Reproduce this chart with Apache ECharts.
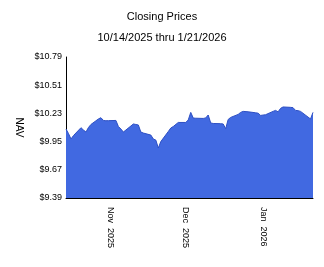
<!DOCTYPE html>
<html>
<head>
<meta charset="utf-8">
<script src="https://cdn.jsdelivr.net/npm/echarts@6/dist/echarts.min.js"></script>
<style>html,body{margin:0;padding:0;background:#fff}#c{width:324px;height:267px}</style>
</head>
<body>
<div id="c"></div>
<script>
const titleText = 'Closing Prices';
const subtitleText = '10/14/2025 thru 1/21/2026';
const yAxisName = 'NAV';
const dates = [
 '2025-10-14','2025-10-15','2025-10-16','2025-10-17','2025-10-20','2025-10-21','2025-10-22','2025-10-23','2025-10-24','2025-10-27','2025-10-28','2025-10-29','2025-10-30','2025-10-31',
 '2025-11-03','2025-11-04','2025-11-05','2025-11-06','2025-11-07','2025-11-10','2025-11-11','2025-11-12','2025-11-13','2025-11-14','2025-11-17','2025-11-18','2025-11-19','2025-11-20','2025-11-21','2025-11-24','2025-11-25','2025-11-26','2025-11-28',
 '2025-12-01','2025-12-02','2025-12-03','2025-12-04','2025-12-05','2025-12-08','2025-12-09','2025-12-10','2025-12-11','2025-12-12','2025-12-15','2025-12-16','2025-12-17','2025-12-18','2025-12-19','2025-12-22','2025-12-23','2025-12-24','2025-12-26','2025-12-29','2025-12-30','2025-12-31',
 '2026-01-02','2026-01-05','2026-01-06','2026-01-07','2026-01-08','2026-01-09','2026-01-12','2026-01-13','2026-01-14','2026-01-15','2026-01-16','2026-01-20','2026-01-21'
];
const navValues = [
 10.075,10.03,9.976,10.01,10.088,10.065,10.045,10.09,10.12,10.175,10.187,10.16,10.157,10.158,
 10.16,10.10,10.075,10.045,10.065,10.125,10.12,10.115,10.045,10.035,10.015,9.976,9.965,9.886,9.95,10.05,10.085,10.10,10.14,
 10.14,10.165,10.24,10.184,10.182,10.18,10.185,10.214,10.135,10.13,10.128,10.125,10.078,10.17,10.19,10.22,10.24,10.25,10.246,10.236,10.232,10.21,
 10.217,10.25,10.26,10.245,10.28,10.294,10.29,10.287,10.26,10.257,10.25,10.175,10.24
];
const xStart = '2025-10-14';
const xEnd = '2026-01-21';
const xTickDates = ['2025-11-01','2025-12-01','2026-01-01'];
const xTickLabels = ['Nov  2025','Dec  2025','Jan  2026'];
const yTicks = [9.39, 9.67, 9.95, 10.23, 10.51, 10.79];
const yMin = 9.39, yMax = 10.79;

const ts = s => { const [y,m,d] = s.split('-').map(Number); return Date.UTC(y, m-1, d); };
const dayOf = s => Math.round((ts(s) - ts(xStart)) / 86400000);
const tickDays = xTickDates.map(dayOf);
const font = '"Liberation Sans", Arial, sans-serif';

const chart = echarts.init(document.getElementById('c'), null, {renderer: 'canvas'});
chart.setOption({
  animation: false,
  backgroundColor: '#ffffff',
  title: [
    {text: titleText, left: 'center', top: 6, textStyle: {fontSize: 11, fontWeight: 'normal', color: '#000', fontFamily: font}},
    {text: subtitleText, left: 'center', top: 27, textStyle: {fontSize: 11, fontWeight: 'normal', color: '#000', fontFamily: font}}
  ],
  grid: {left: 66, right: 11, top: 57, bottom: 69},
  xAxis: {
    type: 'value',
    min: 0, max: dayOf(xEnd),
    axisLine: {lineStyle: {color: '#000', width: 1}},
    axisTick: {show: false},
    splitLine: {show: false},
    axisLabel: {
      customValues: tickDays,
      rotate: -90, margin: 9,
      fontSize: 9, color: '#000', fontFamily: font,
      formatter: v => { const i = tickDays.indexOf(v); return i >= 0 ? xTickLabels[i] : ''; }
    }
  },
  yAxis: {
    type: 'value', min: yMin, max: yMax,
    name: yAxisName, nameLocation: 'middle', nameRotate: -90, nameGap: 40,
    nameTextStyle: {fontSize: 10, color: '#000', fontFamily: font},
    axisLine: {show: true, lineStyle: {color: '#000', width: 1}},
    axisTick: {show: false},
    splitLine: {show: false},
    axisLabel: {
      customValues: yTicks,
      fontSize: 9, color: '#000', fontFamily: font, margin: 4,
      formatter: v => '$' + v.toFixed(2)
    }
  },
  series: [{
    type: 'line',
    data: dates.map((d, i) => [dayOf(d), navValues[i]]),
    symbol: 'none',
    lineStyle: {color: '#2d4fc4', width: 1},
    areaStyle: {color: '#4169e1', opacity: 1, origin: 'start'},
    z: 1
  }]
});
</script>
</body>
</html>
